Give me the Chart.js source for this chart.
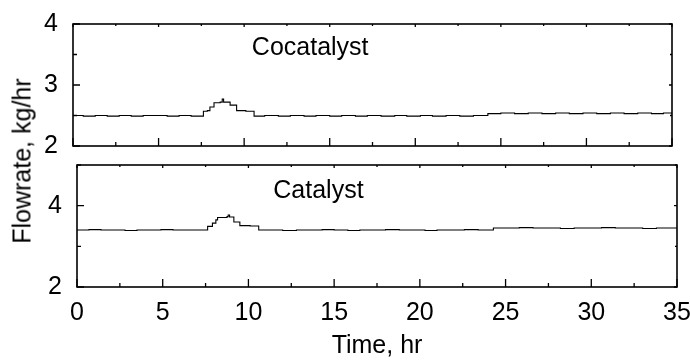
<!DOCTYPE html>
<html>
<head>
<meta charset="utf-8">
<script src="https://cdn.jsdelivr.net/npm/chart.js@4/dist/chart.umd.min.js"></script>
<style>
  html, body { margin: 0; padding: 0; background: #fff; }
  #wrap { position: relative; width: 690px; height: 361px; }
  canvas { position: absolute; left: 0; top: 0; }
  #yTitle {
    position: absolute; left: 22px; top: 161px;
    transform: translate(-50%, -50%) rotate(-90deg);
    font: 25px "Liberation Sans", Arial, sans-serif; white-space: nowrap; color: #000;
  }
</style>
</head>
<body>
<div id="wrap">
  <canvas id="topChart" width="690" height="361"></canvas>
  <canvas id="bottomChart" width="690" height="361"></canvas>
  <div id="yTitle">Flowrate, kg/hr</div>
</div>
<script>
// Cocatalyst flowrate (top panel)
const cocatTime = [0, 0.6, 1.3, 2.0, 2.7, 3.4, 4.1, 4.8, 5.5, 6.2, 6.9, 7.62, 7.85, 8.0, 8.24, 8.6, 8.72, 8.8, 9.18, 9.56, 10.1, 10.58,
  11.2, 12.0, 12.7, 13.5, 14.2, 15.0, 15.7, 16.5, 17.2, 18.0, 18.8, 19.5, 20.3, 21.0, 21.8, 22.6, 23.4, 24.24,
  25.0, 25.8, 26.6, 27.4, 28.2, 29.0, 29.8, 30.6, 31.4, 32.2, 33.0, 33.8, 34.5, 35]
const cocatFlow = [2.50, 2.49, 2.50, 2.49, 2.50, 2.49, 2.50, 2.50, 2.49, 2.50, 2.49, 2.57, 2.58, 2.64, 2.71, 2.72, 2.77, 2.72, 2.67, 2.58, 2.57, 2.49,
  2.50, 2.49, 2.50, 2.49, 2.50, 2.49, 2.50, 2.49, 2.50, 2.49, 2.50, 2.49, 2.50, 2.49, 2.50, 2.49, 2.50, 2.53,
  2.54, 2.53, 2.54, 2.53, 2.54, 2.53, 2.54, 2.53, 2.54, 2.53, 2.54, 2.53, 2.54, 2.53]

// Catalyst flowrate (bottom panel)
const catTime = [0, 0.7, 1.4, 2.1, 2.8, 3.5, 4.2, 4.9, 5.6, 6.3, 7.0, 7.62, 7.9, 8.1, 8.2, 8.75, 8.82, 8.9, 9.15, 9.5, 10.1, 10.6,
  11.3, 12.0, 12.8, 13.5, 14.3, 15.0, 15.8, 16.5, 17.3, 18.0, 18.8, 19.5, 20.3, 21.0, 21.8, 22.6, 23.4, 24.29,
  25.0, 25.8, 26.6, 27.4, 28.2, 29.0, 29.8, 30.6, 31.4, 32.2, 33.0, 33.8, 34.5, 35]
const catFlow = [3.40, 3.41, 3.40, 3.40, 3.39, 3.40, 3.40, 3.41, 3.40, 3.40, 3.40, 3.49, 3.57, 3.65, 3.71, 3.73, 3.77, 3.72, 3.60, 3.51, 3.50, 3.40,
  3.40, 3.39, 3.40, 3.40, 3.41, 3.40, 3.39, 3.40, 3.40, 3.41, 3.40, 3.40, 3.39, 3.40, 3.40, 3.41, 3.40, 3.45,
  3.45, 3.46, 3.45, 3.45, 3.44, 3.45, 3.45, 3.46, 3.45, 3.45, 3.44, 3.45, 3.45, 3.45]

// tick values
const xMajor = [0, 5, 10, 15, 20, 25, 30, 35]
const xMinor = [2.5, 7.5, 12.5, 17.5, 22.5, 27.5, 32.5]
const topYMajor = [2, 3, 4]
const topYMinor = [2.5, 3.5]
const bottomYMajor = [2, 4]
const bottomYMinor = [3, 5]

Chart.defaults.font.family = '"Liberation Sans", Arial, sans-serif'
Chart.defaults.color = '#000'

/* cadre + graduations vers l'intérieur + étiquette du panneau */
const frameTicks = {
  id: 'frameTicks',
  afterDatasetsDraw(chart, args, opts) {
    const { ctx, chartArea: a, scales: { x, y } } = chart
    ctx.save()
    ctx.strokeStyle = '#000'
    ctx.lineWidth = 1.6
    ctx.strokeRect(a.left, a.top, a.width, a.height)
    ctx.lineWidth = 1.3
    ctx.beginPath()
    const xt = (v, len, top) => {
      const px = x.getPixelForValue(v)
      ctx.moveTo(px, a.bottom); ctx.lineTo(px, a.bottom - len)
      ctx.moveTo(px, a.top); ctx.lineTo(px, a.top + top)
    }
    const yt = (v, len, right) => {
      const py = y.getPixelForValue(v)
      ctx.moveTo(a.left, py); ctx.lineTo(a.left + len, py)
      ctx.moveTo(a.right, py); ctx.lineTo(a.right - right, py)
    }
    xMajor.forEach(v => xt(v, 8, 3))
    xMinor.forEach(v => xt(v, 4, 2))
    opts.yMajor.forEach(v => yt(v, 7, 3))
    opts.yMinor.forEach(v => yt(v, 4, 2))
    ctx.stroke()
    ctx.fillStyle = '#000'
    ctx.font = '25px "Liberation Sans", Arial, sans-serif'
    ctx.textBaseline = 'alphabetic'
    ctx.fillText(opts.label, x.getPixelForValue(opts.labelAt[0]), y.getPixelForValue(opts.labelAt[1]))
    ctx.restore()
  }
}

const makePanel = (id, times, flows, p) => new Chart(document.getElementById(id), {
  type: 'line',
  data: {
    datasets: [{
      data: times.map((t, i) => ({ x: t, y: flows[i] })),
      stepped: true,
      borderColor: '#000',
      borderWidth: 1.1,
      pointRadius: 0,
      fill: false,
    }]
  },
  options: {
    responsive: false,
    animation: false,
    devicePixelRatio: 1,
    layout: { padding: p.padding },
    plugins: { legend: { display: false }, tooltip: { enabled: false }, frameTicks: p.frame },
    scales: {
      x: {
        type: 'linear', min: 0, max: 35,
        afterBuildTicks: s => { s.ticks = xMajor.map(v => ({ value: v })) },
        afterFit: s => { s.height = p.xHeight; s.paddingLeft = 0; s.paddingRight = 0 },
        grid: { display: false },
        border: { display: false },
        ticks: { display: p.xLabels, font: { size: 25 }, padding: 3, maxRotation: 0 },
        title: { display: p.xLabels, text: 'Time, hr', font: { size: 25 }, padding: 0 },
      },
      y: {
        min: p.yMin, max: p.yMax,
        afterBuildTicks: s => { s.ticks = p.frame.yMajor.map(v => ({ value: v })) },
        afterFit: s => { s.width = p.yWidth; s.paddingTop = 0; s.paddingBottom = 0 },
        grid: { display: false },
        border: { display: false },
        ticks: { font: { size: 25 }, padding: 7 },
      }
    }
  },
  plugins: [frameTicks]
})

makePanel('topChart', cocatTime, cocatFlow, {
  padding: { top: 24, right: 18, bottom: 215, left: 0 },
  xHeight: 0, yWidth: 73, xLabels: false, yMin: 2, yMax: 4,
  frame: { yMajor: topYMajor, yMinor: topYMinor, label: 'Cocatalyst', labelAt: [10.45, 3.5] }
})

makePanel('bottomChart', catTime, catFlow, {
  padding: { top: 165, right: 13, bottom: 0, left: 0 },
  xHeight: 74, yWidth: 77, xLabels: true, yMin: 2, yMax: 5,
  frame: { yMajor: bottomYMajor, yMinor: bottomYMinor, label: 'Catalyst', labelAt: [11.45, 4.18] }
})
</script>
</body>
</html>
